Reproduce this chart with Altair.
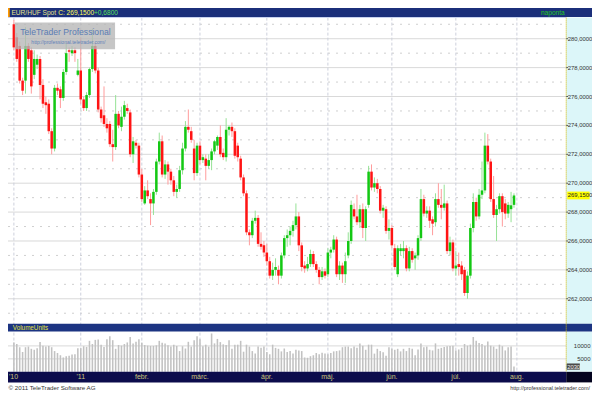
import altair as alt
import pandas as pd

# ---------------- data ----------------
OPEN = [
    281.0, 280.1, 279.5, 277.1, 277.1, 279.5, 279.2, 277.5, 278.2, 278.6,
    276.8, 275.6, 275.5, 273.6, 272.4, 276.6, 276.5, 275.9, 277.7, 279.2,
    279.0, 279.2, 277.5, 277.8, 275.8, 275.2, 276.1, 277.9, 279.5, 277.8,
    275.1, 274.7, 274.1, 274.1, 272.7, 272.5, 274.8, 273.9, 274.6, 275.2,
    274.9, 272.0, 272.8, 272.6, 270.6, 268.6, 269.5, 268.9, 268.6, 269.4,
    271.5, 272.9, 270.6, 271.3, 270.8, 270.2, 269.4, 269.6, 270.9, 272.4,
    273.9, 273.6, 272.4, 270.7, 272.6, 271.6, 271.7, 271.2, 271.6, 272.2,
    272.6, 273.2, 272.1, 271.8, 273.7, 273.9, 273.6, 272.6, 271.7, 270.4,
    269.3, 266.6, 266.4, 267.4, 267.6, 265.8, 265.7, 265.2, 264.6, 263.6,
    264.0, 264.0, 263.6, 265.0, 266.2, 266.4, 266.7, 267.1, 267.7, 265.7,
    264.3, 264.1, 264.4, 265.1, 264.4, 264.0, 263.5, 263.9, 263.7, 265.2,
    265.4, 266.1, 263.7, 264.3, 263.7, 265.0, 266.0, 268.2, 267.7, 267.3,
    268.2, 266.9, 268.5, 270.8, 269.7, 270.0, 269.6, 268.1, 268.2, 266.7,
    266.9, 265.5, 263.7, 265.3, 265.3, 265.5, 264.1, 265.3, 264.8, 265.0,
    266.2, 268.9, 267.9, 268.1, 267.5, 267.3, 268.9, 268.5, 268.3, 268.6,
    265.3, 265.9, 264.1, 264.4, 264.3, 264.0, 262.4, 263.6, 266.9, 268.7,
    267.7, 269.2, 269.5, 272.6, 271.5, 268.9, 267.8, 268.2, 269.1, 268.6,
    267.9, 268.2, 268.5,
]
HIGH = [
    281.3, 280.4, 279.8, 277.3, 280.8, 279.7, 279.4, 279.2, 278.9, 278.8,
    277.2, 276.0, 275.8, 273.8, 276.8, 276.9, 276.7, 277.9, 279.7, 279.4,
    279.5, 279.4, 278.6, 280.1, 276.0, 276.3, 278.0, 280.7, 279.7, 278.0,
    275.3, 276.7, 274.5, 274.3, 273.7, 276.1, 275.0, 275.3, 275.7, 275.5,
    275.1, 273.2, 273.0, 272.8, 271.0, 269.8, 270.2, 269.3, 269.6, 271.7,
    273.5, 273.3, 271.6, 271.5, 271.0, 270.5, 269.9, 271.2, 272.8, 274.3,
    275.1, 273.9, 273.0, 272.8, 272.9, 272.0, 272.0, 272.0, 272.4, 273.0,
    273.3, 274.0, 272.4, 274.5, 274.0, 274.2, 273.8, 272.8, 271.9, 270.6,
    269.5, 266.8, 267.6, 268.1, 267.8, 266.6, 266.0, 265.8, 264.9, 264.5,
    264.8, 264.3, 265.2, 266.4, 266.8, 267.0, 267.4, 268.6, 268.0, 265.9,
    264.6, 264.9, 265.4, 265.3, 264.6, 264.2, 264.2, 264.1, 265.5, 265.6,
    266.4, 266.3, 264.6, 264.5, 265.2, 266.6, 268.8, 268.6, 269.2, 268.5,
    268.6, 268.4, 271.2, 271.3, 270.4, 270.3, 269.8, 268.5, 268.4, 267.5,
    267.1, 265.8, 265.7, 265.8, 266.0, 265.7, 265.6, 265.5, 265.2, 266.4,
    269.6, 269.2, 268.4, 268.4, 267.7, 269.3, 270.0, 269.6, 269.9, 268.8,
    266.3, 266.1, 265.3, 265.2, 264.6, 264.2, 263.9, 267.2, 269.3, 269.0,
    269.6, 271.5, 273.5, 273.4, 271.7, 270.5, 268.5, 269.3, 269.3, 268.9,
    268.7, 269.4, 269.3,
]
LOW = [
    279.2, 278.4, 276.9, 276.1, 276.2, 278.4, 276.2, 277.2, 277.9, 275.8,
    275.2, 274.8, 273.4, 272.0, 272.2, 276.1, 275.2, 275.7, 277.5, 278.4,
    278.8, 278.4, 277.4, 275.5, 275.0, 275.0, 275.9, 277.7, 277.6, 274.9,
    274.2, 273.9, 273.5, 272.5, 271.5, 272.3, 273.8, 273.6, 274.4, 274.8,
    271.8, 271.4, 272.4, 270.4, 268.7, 268.5, 268.9, 267.1, 267.8, 269.2,
    271.3, 270.4, 270.3, 269.9, 269.9, 269.1, 269.0, 269.4, 270.6, 272.2,
    273.5, 272.8, 270.2, 270.5, 271.3, 271.4, 270.2, 271.0, 270.9, 272.0,
    272.3, 271.8, 271.6, 271.5, 273.3, 273.2, 271.7, 271.5, 270.2, 269.1,
    266.4, 265.7, 266.2, 267.2, 265.6, 265.4, 264.9, 264.3, 263.4, 263.3,
    263.6, 263.0, 263.4, 264.8, 265.6, 265.7, 266.3, 266.8, 265.3, 263.9,
    263.8, 263.9, 264.2, 264.2, 263.8, 263.0, 263.3, 263.4, 263.5, 264.8,
    265.2, 263.5, 263.3, 263.1, 263.1, 264.8, 265.8, 267.5, 267.1, 266.9,
    266.2, 266.0, 268.3, 269.5, 269.4, 269.3, 267.9, 267.6, 266.5, 266.1,
    265.5, 264.0, 263.5, 265.0, 264.8, 263.9, 263.9, 264.5, 264.0, 264.7,
    266.0, 267.7, 267.6, 266.9, 266.4, 267.0, 268.3, 267.5, 268.1, 265.1,
    265.0, 263.9, 263.6, 263.6, 263.3, 262.2, 262.0, 263.4, 266.6, 267.4,
    267.5, 268.9, 269.3, 271.3, 268.7, 267.6, 266.0, 267.9, 267.0, 267.5,
    267.6, 267.3, 268.3,
]
CLOSE = [
    279.4, 278.6, 277.1, 276.4, 279.5, 278.6, 276.7, 278.6, 278.6, 276.8,
    275.5, 275.4, 273.6, 272.4, 276.6, 276.4, 275.9, 277.7, 279.0, 279.1,
    279.2, 279.0, 277.8, 275.8, 275.2, 276.1, 277.9, 279.5, 277.8, 275.1,
    274.5, 274.1, 273.8, 272.7, 272.5, 274.8, 274.0, 274.6, 275.4, 275.0,
    272.0, 272.9, 272.6, 270.6, 268.9, 269.5, 269.1, 268.6, 269.4, 271.5,
    272.9, 270.6, 271.3, 270.8, 270.2, 269.4, 269.6, 270.9, 272.4, 273.9,
    273.7, 273.0, 270.7, 272.6, 271.6, 271.8, 271.2, 271.6, 272.2, 272.9,
    273.2, 272.0, 271.8, 273.7, 273.9, 273.6, 271.9, 271.8, 270.4, 269.3,
    266.6, 266.4, 267.4, 267.6, 265.8, 265.6, 265.2, 264.6, 263.6, 264.0,
    264.2, 263.6, 265.0, 266.2, 266.4, 266.7, 267.1, 267.7, 265.7, 264.2,
    264.1, 264.4, 265.1, 264.4, 264.0, 263.5, 263.9, 263.6, 265.2, 265.4,
    266.1, 263.7, 264.3, 263.7, 264.6, 266.0, 268.5, 267.7, 267.3, 268.2,
    266.9, 268.2, 270.8, 269.7, 270.0, 269.6, 268.1, 268.3, 266.7, 266.9,
    265.7, 264.2, 265.5, 265.5, 265.5, 264.1, 265.3, 264.7, 265.0, 266.2,
    268.9, 267.9, 268.1, 267.4, 267.2, 268.9, 268.5, 268.3, 268.6, 265.3,
    265.9, 264.1, 264.3, 264.2, 263.7, 262.4, 263.6, 266.9, 268.7, 267.7,
    269.2, 269.5, 272.6, 271.5, 268.9, 267.8, 268.2, 269.1, 268.0, 267.9,
    268.5, 268.47, 269.15,
]
VOLUME = [
    11350, 10730, 9500, 7650, 9500, 9740, 8880, 8510, 9130, 11470,
    10110, 9740, 9990, 9500, 8010, 7280, 6410, 5550, 6040, 6170,
    6660, 6780, 9130, 9130, 9870, 9620, 11960, 10730, 12330, 12460,
    10480, 9620, 12580, 13690, 12210, 8880, 10360, 10110, 10730, 11350,
    13450, 10980, 11590, 12580, 11230, 10360, 10110, 9990, 9990, 10240,
    11960, 11230, 10980, 10240, 9740, 10480, 9990, 8010, 9870, 9000,
    11590, 9740, 12210, 13690, 12580, 9870, 10480, 9740, 14800, 10980,
    12700, 11470, 10600, 10360, 12210, 8880, 10480, 10480, 11960, 7770,
    10480, 9740, 8010, 7030, 9740, 9250, 9740, 7650, 6780, 10480,
    9250, 8880, 7890, 9000, 7650, 8010, 7030, 8510,
    8260, 8010, 5550, 5430, 6040, 6410, 7280, 6780, 7400, 7030,
    6780, 7280, 7890, 8010, 8260, 9500, 9740, 9740, 9130, 9740,
    9300, 10980, 10110, 8510, 10480, 10480, 7030, 8880, 8010, 7600,
    6170, 9500, 8880, 8510, 8880, 7890, 8880, 8010, 9250, 8900,
    6410, 8630, 10980, 9500, 9740, 8510, 8260, 10980, 8880, 9250,
    9600, 9870, 9990, 10110, 8260, 8630, 9250, 10730, 10110, 10480,
    13450, 12000, 11100, 10730, 10110, 11710, 10110, 9740, 8880, 10480,
    9900, 8260, 9500, 9740, 2030,
]
MONTH_IDX = [0, 23, 44, 64, 87, 108, 130, 152, 173]
MONTH_LABELS = ["'10", "'11", "febr.", "márc.", "ápr.", "máj.", "jún.", "júl.", "aug."]
PRICE_TICKS = [262, 264, 266, 268, 270, 272, 274, 276, 278, 280]
PRICE_MINOR = [261, 263, 265, 267, 269, 271, 273, 275, 277, 279, 281]
VOL_TICKS = [5000, 10000]
VOL_TICK_LABELS = ["5000", "10000"]
LAST_PRICE = 269.15
LAST_PRICE_LABEL = "269,1500"
LAST_VOLUME = 2030
TITLE = "EUR/HUF Spot"
CLOSE_TEXT = "C: 269,1500"
CHANGE_TEXT = "+0,6800"

# ---------------- layout helpers ----------------
W, H = 584, 384
SX, SY = W / 600.0, H / 400.0


def px(v):
    return round(v * SX, 2)


def py(v):
    return round(v * SY, 2)


FONT = "Liberation Sans, Arial, sans-serif"

df = pd.DataFrame({"i": list(range(len(CLOSE))), "o": OPEN, "h": HIGH,
                   "l": LOW, "c": CLOSE, "v": VOLUME})

XS = alt.Scale(domain=[0, 172], range=[px(0.9), px(0.9 + 172 * 3.047)], nice=False, zero=False)
PS = alt.Scale(domain=[262, 280], range=[py(302.9), py(32.0)], nice=False, zero=False)
VS = alt.Scale(domain=[0, 10000], range=[py(379.0), py(352.0)], nice=False, zero=False)

ONE = pd.DataFrame({"k": [0]})


def rect(x1, y1, x2, y2, color, **kw):
    return alt.Chart(ONE).mark_rect(color=color, **kw).encode(
        x=alt.value(px(x1)), x2=alt.value(px(x2)),
        y=alt.value(py(y1)), y2=alt.value(py(y2)))


def label(x, y, s, color, size=8, align="left", **kw):
    return alt.Chart(ONE).mark_text(text=s, color=color, fontSize=size, align=align,
                                    baseline="middle", font=FONT, **kw).encode(
        x=alt.value(px(x)), y=alt.value(py(y)))


UP = "datum.c >= datum.o"
xenc = alt.X("i:Q", scale=XS, axis=None)

even_df = pd.DataFrame({"p": PRICE_TICKS,
                        "lab": [f"{v:.4f}".replace(".", ",") for v in PRICE_TICKS]})
odd_df = pd.DataFrame({"p": PRICE_MINOR})
months = pd.DataFrame({"i": MONTH_IDX, "t": MONTH_LABELS})
vt = pd.DataFrame({"v": VOL_TICKS, "lab": VOL_TICK_LABELS})

layers = []

# grid
layers.append(alt.Chart(even_df).mark_rule(color="#d9d9d9", strokeWidth=1).encode(
    y=alt.Y("p:Q", scale=PS, axis=None), x=alt.value(0), x2=alt.value(px(573.5))))
layers.append(alt.Chart(odd_df).mark_rule(color="#cfcfcf", strokeWidth=1, strokeDash=[2, 6]).encode(
    y=alt.Y("p:Q", scale=PS, axis=None), x=alt.value(0), x2=alt.value(px(573.5))))
layers.append(alt.Chart(vt).mark_rule(color="#d9d9d9", strokeWidth=1).encode(
    y=alt.Y("v:Q", scale=VS, axis=None), x=alt.value(0), x2=alt.value(px(573.5))))
layers.append(alt.Chart(months).mark_rule(color="#cdd0dc", strokeWidth=1, strokeDash=[3, 2]).encode(
    x=xenc, y=alt.value(py(10)), y2=alt.value(py(379))))

# volume bars
layers.append(alt.Chart(df).mark_bar(size=px(1.6), color="#c2c2c2").encode(
    x=xenc, y=alt.Y("v:Q", scale=VS, axis=None), y2=alt.datum(0)))

# candles
layers.append(alt.Chart(df).mark_rule(strokeWidth=1).encode(
    x=xenc, y=alt.Y("l:Q", scale=PS, axis=None), y2="h:Q",
    color=alt.condition(UP, alt.value("#96e296"), alt.value("#ff9c9c"))))
layers.append(alt.Chart(df).mark_bar(size=px(2.6)).encode(
    x=xenc, y=alt.Y("o:Q", scale=PS, axis=None), y2="c:Q",
    color=alt.condition(UP, alt.value("#14c814"), alt.value("#ff1414"))))

# watermark
layers.append(rect(7, 15, 110, 43, "#b6b6b6", opacity=0.78))
layers.append(label(12.5, 24.5, "TeleTrader Professional", "#5b7cb4", size=8.6))
layers.append(label(24, 35, "http://professional.teletrader.com/", "#5f80b8", size=5))

# header bar
layers.append(rect(0, 0, 600, 9.5, "#1b2f7a"))
layers.append(rect(0, 9.5, 573.5, 10.5, "#c8d2ee"))
layers.append(rect(0, 0, 1.8, 9.5, "#ff9a00"))
layers.append(label(3.5, 5, TITLE, "#e4e48c", size=6.6))
layers.append(label(51.5, 5, CLOSE_TEXT, "#ffff5a", size=6.6))
layers.append(label(113, 5, CHANGE_TEXT, "#5ae05a", size=6.6, align="right"))
layers.append(label(572, 5, "naponta", "#22c822", size=6.6, align="right"))

# right axis panels
layers.append(rect(573.5, 10, 600, 329, "#dcf6f9"))
layers.append(rect(573.5, 337, 600, 379, "#dcf6f9"))
layers.append(rect(0, 329, 600, 337, "#1c3482"))
layers.append(label(5, 333, "VolumeUnits", "#e2e23c", size=6.3))
layers.append(rect(0, 379, 573.5, 390, "#0c0c4c"))
layers.append(rect(573.5, 379, 600, 390, "#03031e"))
layers.append(alt.Chart(ONE).mark_rule(color="#d2b800", strokeWidth=1, strokeDash=[1, 1]).encode(
    x=alt.value(px(573.5)), y=alt.value(py(10)), y2=alt.value(py(379))))

# price axis ticks & labels
layers.append(alt.Chart(even_df).mark_rule(color="#555555", strokeWidth=1).encode(
    y=alt.Y("p:Q", scale=PS, axis=None), x=alt.value(px(573.5)), x2=alt.value(px(575.5))))
layers.append(alt.Chart(even_df).mark_text(align="left", baseline="middle", fontSize=5.9,
                                           color="#333333", font=FONT).encode(
    y=alt.Y("p:Q", scale=PS, axis=None), x=alt.value(px(575)), text="lab:N"))

# last price box
lp = pd.DataFrame({"p": [LAST_PRICE], "lab": [LAST_PRICE_LABEL]})
layers.append(alt.Chart(lp).transform_calculate(p1="datum.p - 0.27", p2="datum.p + 0.27").mark_rect(
    color="#ffff00").encode(y=alt.Y("p1:Q", scale=PS, axis=None), y2="p2:Q",
                            x=alt.value(px(574.5)), x2=alt.value(px(597.5))))
layers.append(alt.Chart(lp).mark_text(align="left", baseline="middle", fontSize=5.9,
                                      color="#222222", font=FONT).encode(
    y=alt.Y("p:Q", scale=PS, axis=None), x=alt.value(px(575)), text="lab:N"))

# volume axis labels & last volume box
layers.append(alt.Chart(vt).mark_text(align="right", baseline="middle", fontSize=6,
                                      color="#333333", font=FONT).encode(
    y=alt.Y("v:Q", scale=VS, axis=None), x=alt.value(px(598.5)), text="lab:N"))
lv = pd.DataFrame({"v": [LAST_VOLUME], "lab": [str(LAST_VOLUME)]})
layers.append(alt.Chart(lv).transform_calculate(v1="datum.v - 1200", v2="datum.v + 1200").mark_rect(
    color="#4a4a4a").encode(y=alt.Y("v1:Q", scale=VS, axis=None), y2="v2:Q",
                            x=alt.value(px(574)), x2=alt.value(px(587.5))))
layers.append(alt.Chart(lv).mark_text(align="left", baseline="middle", fontSize=5.8,
                                      color="#eeeeee", font=FONT).encode(
    y=alt.Y("v:Q", scale=VS, axis=None), x=alt.value(px(574.5)), text="lab:N"))

# month labels
layers.append(alt.Chart(months).transform_filter("datum.i > 0").mark_text(
    align="center", baseline="middle", fontSize=7, color="#cbc47c", font=FONT).encode(
    x=xenc, y=alt.value(py(384.5)), text="t:N"))
layers.append(alt.Chart(months).transform_filter("datum.i == 0").mark_text(
    align="left", baseline="middle", fontSize=7, color="#cbc47c", font=FONT).encode(
    x=alt.value(px(1)), y=alt.value(py(384.5)), text="t:N"))

# footer
layers.append(label(0.5, 395.5, "© 2011 TeleTrader Software AG", "#333333", size=6.2))
layers.append(label(598, 395.5, "http://professional.teletrader.com/", "#333333", size=5.4, align="right"))

chart = alt.layer(*layers).resolve_scale(y="independent").properties(
    width=W, height=H, autosize=alt.AutoSizeParams(type="none"), padding=0,
    background="white").configure_view(strokeWidth=0)

chart.save("out.html", embed_options={"renderer": "svg", "actions": False})
